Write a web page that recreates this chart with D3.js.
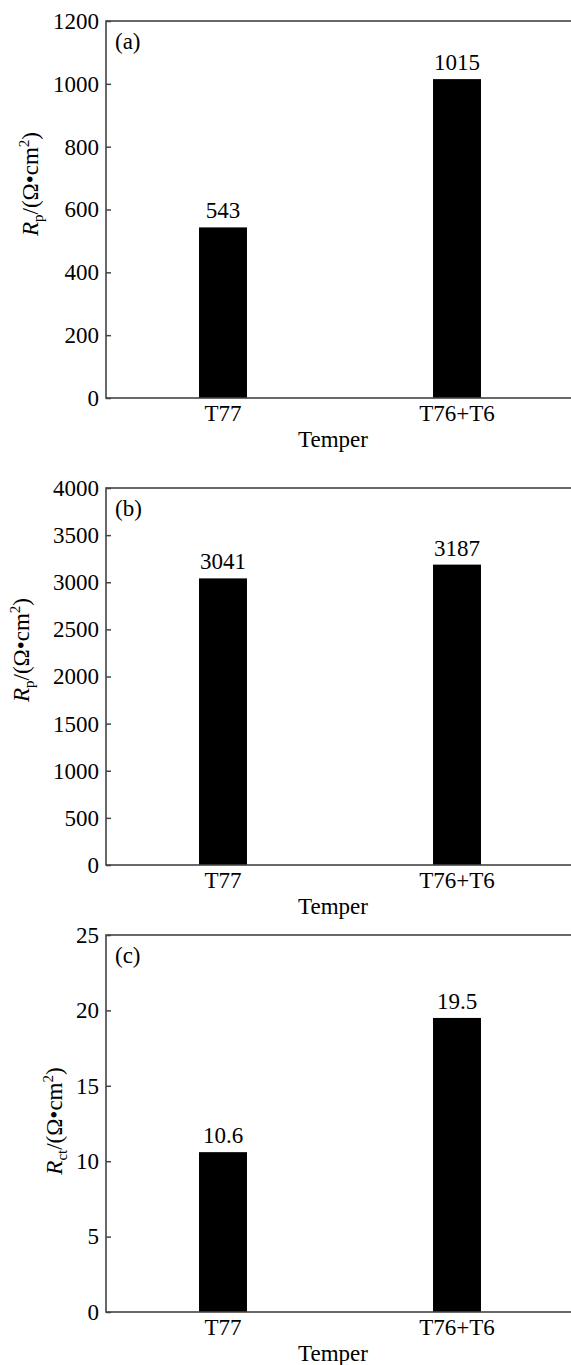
<!DOCTYPE html>
<html>
<head>
<meta charset="utf-8">
<script src="https://cdn.jsdelivr.net/npm/d3@7"></script>
<style>
  body { margin: 0; background: #fff; }
  svg { display: block; }
  text { font-family: "Liberation Serif", "Times New Roman", serif; fill: #000; }
</style>
</head>
<body>
<script>
// data
const tempers = ['T77', 'T76+T6'];
const rpA = [543, 1015];
const rpB = [3041, 3187];
const rctC = [10.6, 19.5];
const panelTags = ['(a)', '(b)', '(c)'];
const yMax = [1200, 4000, 25];
const yStep = [200, 500, 5];

const width = 571;
const height = 1365;
const fontSize = 23;
const serif = '"Liberation Serif", "Times New Roman", serif';

const svg = d3.select('body').append('svg')
  .attr('width', width)
  .attr('height', height)
  .attr('font-family', serif);

// layout for each panel (top/bottom of plot frame, y-label placement)
const panels = [
  { values: rpA, top: 21, bottom: 398, sub: 'p', labelX: 38, labelY: 184 },
  { values: rpB, top: 488, bottom: 865, sub: 'p', labelX: 29, labelY: 650 },
  { values: rctC, top: 935, bottom: 1312, sub: 'ct', labelX: 62, labelY: 1121 }
];

const left = 106;
const right = 574;

const x = d3.scaleBand()
  .domain(tempers)
  .range([left, right])
  .paddingInner(0.795)
  .paddingOuter(0.3975);

panels.forEach((p, i) => {
  const g = svg.append('g').attr('class', 'panel');

  const y = d3.scaleLinear()
    .domain([0, yMax[i]])
    .range([p.bottom, p.top]);

  // bars
  g.selectAll('.bar')
    .data(p.values)
    .enter()
    .append('rect')
    .attr('class', 'bar')
    .attr('x', (d, j) => x(tempers[j]))
    .attr('width', x.bandwidth())
    .attr('y', d => y(d))
    .attr('height', d => y(0) - y(d))
    .attr('fill', '#000');

  // value labels
  g.selectAll('.val')
    .data(p.values)
    .enter()
    .append('text')
    .attr('class', 'val')
    .attr('x', (d, j) => x(tempers[j]) + x.bandwidth() / 2)
    .attr('y', d => y(d) - 9)
    .attr('text-anchor', 'middle')
    .style('font-size', fontSize + 'px')
    .text(d => d);

  // y axis, ticks pointing inward
  const yAxis = d3.axisLeft(y)
    .tickValues(d3.range(0, yMax[i] + yStep[i] / 2, yStep[i]))
    .tickSize(-5)
    .tickPadding(7)
    .tickFormat(d3.format('d'));

  const ya = g.append('g')
    .attr('transform', `translate(${left},0)`)
    .call(yAxis)
    .attr('font-family', serif);
  ya.select('.domain').remove();
  ya.selectAll('line').attr('stroke', '#444').attr('stroke-width', 1.5);
  ya.selectAll('text')
    .style('font-size', fontSize + 'px')
    .attr('fill', '#000');

  // x axis, no ticks
  const xa = g.append('g')
    .attr('transform', `translate(0,${p.bottom})`)
    .call(d3.axisBottom(x).tickSize(0).tickPadding(7))
    .attr('font-family', serif);
  xa.select('.domain').remove();
  xa.selectAll('text')
    .style('font-size', fontSize + 'px')
    .attr('fill', '#000');

  // frame
  g.append('rect')
    .attr('x', left)
    .attr('y', p.top)
    .attr('width', right - left)
    .attr('height', p.bottom - p.top)
    .attr('fill', 'none')
    .attr('stroke', '#444')
    .attr('stroke-width', 1.6);

  // panel tag
  g.append('text')
    .attr('x', left + 9)
    .attr('y', p.top + 28)
    .style('font-size', fontSize + 'px')
    .text(panelTags[i]);

  // x title
  g.append('text')
    .attr('x', 333)
    .attr('y', p.bottom + 49)
    .attr('text-anchor', 'middle')
    .style('font-size', fontSize + 'px')
    .text('Temper');

  // y title: R_sub/(Ω•cm²)
  const yt = g.append('text')
    .attr('transform', `translate(${p.labelX},${p.labelY}) rotate(-90)`)
    .attr('text-anchor', 'middle')
    .style('font-size', fontSize + 'px');
  yt.append('tspan').style('font-style', 'italic').text('R');
  yt.append('tspan').attr('dy', 5).style('font-size', '15px').text(p.sub);
  yt.append('tspan').attr('dy', -5).text('/(Ω•cm');
  yt.append('tspan').attr('dy', -9).style('font-size', '15px').text('2');
  yt.append('tspan').attr('dy', 9).text(')');
});
</script>
</body>
</html>
